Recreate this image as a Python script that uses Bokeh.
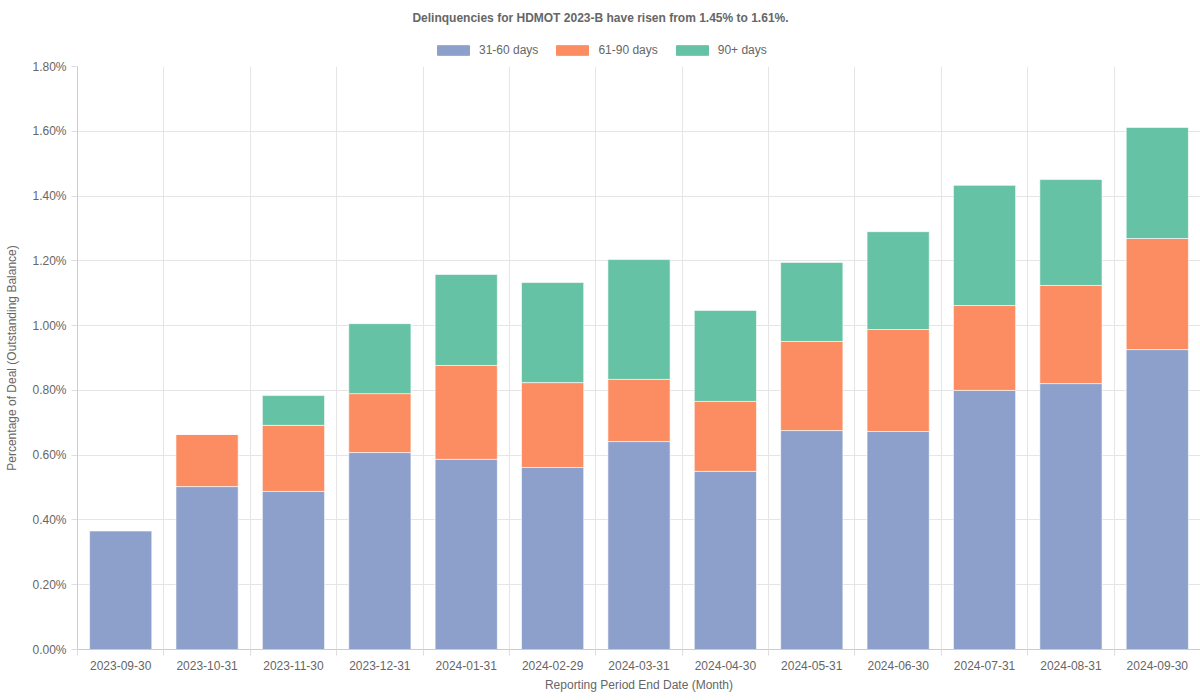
from bokeh.plotting import figure
from bokeh.layouts import column
from bokeh.models import (ColumnDataSource, FixedTicker, PrintfTickFormatter, Legend,
                          LegendItem, Range1d, Label)
from bokeh.embed import file_html
from bokeh.resources import INLINE

dates = ["2023-09-30", "2023-10-31", "2023-11-30", "2023-12-31", "2024-01-31",
         "2024-02-29", "2024-03-31", "2024-04-30", "2024-05-31", "2024-06-30",
         "2024-07-31", "2024-08-31", "2024-09-30"]
d31_60 = [0.367, 0.503, 0.488, 0.608, 0.587, 0.562, 0.642, 0.550, 0.676, 0.673, 0.800, 0.821, 0.926]
d61_90 = [0.0, 0.161, 0.204, 0.182, 0.290, 0.262, 0.192, 0.216, 0.275, 0.315, 0.262, 0.303, 0.343]
d90p = [0.0, 0.0, 0.092, 0.216, 0.281, 0.309, 0.370, 0.281, 0.244, 0.302, 0.371, 0.327, 0.343]
series = ["31-60 days", "61-90 days", "90+ days"]
colors = ["#8da0cb", "#fc8d62", "#66c2a5"]
y_ticks = [0.0, 0.2, 0.4, 0.6, 0.8, 1.0, 1.2, 1.4, 1.6, 1.8]
title_text = "Delinquencies for HDMOT 2023-B have risen from 1.45% to 1.61%."

n = len(dates)
xs = [i + 0.5 for i in range(n)]
source = ColumnDataSource(dict(x=xs, a=d31_60, b=d61_90, c=d90p))

FONT = "Liberation Sans"
GREY = "#666666"
LEFT = 77

# ---- header figure: title + legend ----
top = figure(width=1200, height=58, output_backend="svg", toolbar_location=None,
             x_range=Range1d(0, 1), y_range=Range1d(0, 1),
             x_axis_type=None, y_axis_type=None,
             min_border_left=LEFT, min_border_right=0, min_border_top=0, min_border_bottom=0)
top.outline_line_color = None
top.xgrid.visible = False
top.ygrid.visible = False
top.add_layout(Label(x=600 - LEFT, y=41, x_units="screen", y_units="screen", text=title_text,
                     text_align="center", text_baseline="middle", text_font=FONT,
                     text_font_size="12px", text_font_style="bold", text_color=GREY))
# legend-only renderers, kept outside the visible range of the header
swatch = ColumnDataSource(dict(x=[5.0], top=[0.5]))
dummies = [top.vbar(x="x", top="top", width=0.1, source=swatch, color=c) for c in colors]
legend = Legend(items=[LegendItem(label=s, renderers=[r]) for s, r in zip(series, dummies)],
                orientation="horizontal", location=(433 - LEFT, 1),
                glyph_width=40, glyph_height=12, label_text_font=FONT,
                label_text_font_size="12px", label_text_color=GREY,
                spacing=14, padding=2, margin=0, border_line_color=None,
                background_fill_alpha=0, label_standoff=6, label_height=12)
top.add_layout(legend, "center")

# ---- main chart ----
p = figure(width=1200, height=642, output_backend="svg", toolbar_location=None,
           x_range=Range1d(0, n), y_range=Range1d(0, 1.8),
           min_border_left=LEFT, min_border_right=0, min_border_bottom=51, min_border_top=8)
p.outline_line_color = None

p.vbar_stack(["a", "b", "c"], x="x", width=0.72, source=source, color=colors,
             line_color="white", line_width=0.6)

# x axis
p.xaxis.ticker = FixedTicker(ticks=xs, minor_ticks=list(range(n + 1)))
p.xaxis.major_label_overrides = {x: d for x, d in zip(xs, dates)}
p.xaxis.major_tick_out = 0
p.xaxis.major_tick_in = 0
p.xaxis.minor_tick_out = 6
p.xaxis.minor_tick_in = 0
p.xaxis.minor_tick_line_color = "#dddddd"
p.xaxis.axis_label = "Reporting Period End Date (Month)"

# y axis
p.yaxis.ticker = FixedTicker(ticks=y_ticks)
p.yaxis.formatter = PrintfTickFormatter(format="%.2f%%")
p.yaxis.major_tick_out = 6
p.yaxis.major_tick_in = 0
p.yaxis.minor_tick_line_color = None
p.yaxis.major_tick_line_color = "#dddddd"
p.yaxis.axis_label = "Percentage of Deal (Outstanding Balance)"
p.yaxis.axis_label_standoff = 10

for ax in (p.xaxis[0], p.yaxis[0]):
    ax.axis_line_color = "#cccccc"
    ax.major_label_text_font = FONT
    ax.major_label_text_font_size = "12px"
    ax.major_label_text_color = GREY
    ax.axis_label_text_font = FONT
    ax.axis_label_text_font_size = "12px"
    ax.axis_label_text_color = GREY
    ax.axis_label_text_font_style = "normal"

p.xgrid.ticker = FixedTicker(ticks=list(range(n + 1)))
p.xgrid.grid_line_color = "#e5e5e5"
p.ygrid.grid_line_color = "#e5e5e5"

layout = column(top, p, spacing=0)
open("out.html", "w").write(file_html(layout, INLINE))
